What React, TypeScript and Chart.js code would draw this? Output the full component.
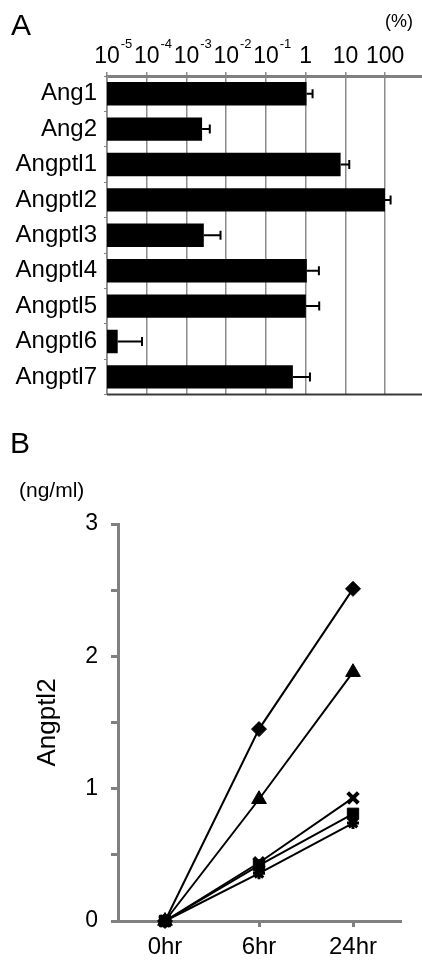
import React, { useEffect, useRef } from 'react';
import { Chart, registerables } from 'chart.js';
Chart.register(...registerables);

const FONT = '"Liberation Sans", Arial, Helvetica, sans-serif';

// Panel A data (relative expression, %)
const genes = ['Ang1', 'Ang2', 'Angptl1', 'Angptl2', 'Angptl3', 'Angptl4', 'Angptl5', 'Angptl6', 'Angptl7'];
const expression = [1.05, 0.00247, 7.57, 98.9, 0.00273, 1.07, 1.01, 0.0000186, 0.476];
const expressionUpper = [1.49, 0.00386, 12.5, 137, 0.00718, 2.15, 2.19, 0.000076, 1.28];
const logExponents = [-5, -4, -3, -2, -1, 0, 1, 2];

// Panel B data (Angptl2, ng/ml)
const timePoints = ['0hr', '6hr', '24hr'];
const seriesDiamond = [0, 1.45, 2.51];
const seriesTriangle = [0, 0.92, 1.88];
const seriesCross = [0, 0.44, 0.93];
const seriesSquare = [0, 0.42, 0.81];
const seriesStar = [0, 0.36, 0.74];

const panelAPlugin = {
  id: 'panelA',
  afterDatasetsDraw(chart: any) {
    const { ctx, scales, chartArea } = chart;
    const x = scales.x;
    ctx.save();
    const meta = chart.getDatasetMeta(0);
    ctx.strokeStyle = '#000';
    ctx.lineWidth = 2;
    expressionUpper.forEach((u, i) => {
      const bar = meta.data[i];
      const yc = bar.y;
      const x0 = x.getPixelForValue(expression[i]);
      const x1 = x.getPixelForValue(u);
      ctx.beginPath();
      ctx.moveTo(x0, yc);
      ctx.lineTo(x1, yc);
      ctx.moveTo(x1, yc - 4.5);
      ctx.lineTo(x1, yc + 4.5);
      ctx.stroke();
    });
    ctx.strokeStyle = '#3a3a3a';
    ctx.lineWidth = 2;
    ctx.beginPath();
    ctx.moveTo(chartArea.left, chartArea.bottom);
    ctx.lineTo(chartArea.right, chartArea.bottom);
    ctx.stroke();
    ctx.fillStyle = '#000';
    ctx.textBaseline = 'alphabetic';
    logExponents.forEach((e) => {
      const px = x.getPixelForValue(Math.pow(10, e));
      ctx.font = `23px ${FONT}`;
      ctx.textAlign = 'center';
      if (e >= 0) {
        ctx.fillText(String(Math.pow(10, e)), px, 63);
      } else {
        ctx.fillText('10', px, 63);
        const w = ctx.measureText('10').width;
        ctx.font = `13px ${FONT}`;
        ctx.textAlign = 'left';
        ctx.fillText(String(e), px + w / 2 + 1, 48);
      }
    });
    ctx.restore();
  },
};

export default function App() {
  const refA = useRef<HTMLCanvasElement>(null);
  const refB = useRef<HTMLCanvasElement>(null);

  useEffect(() => {
    const chartA = new Chart(refA.current as HTMLCanvasElement, {
      type: 'bar',
      data: {
        labels: genes,
        datasets: [
          {
            data: expression,
            backgroundColor: '#000',
            borderWidth: 0,
            barPercentage: 0.66,
            categoryPercentage: 1,
          },
        ],
      },
      options: {
        indexAxis: 'y',
        animation: false,
        responsive: false,
        devicePixelRatio: 1,
        layout: { padding: { top: 0, left: 0, right: 0, bottom: 3 } },
        plugins: { legend: { display: false }, tooltip: { enabled: false } },
        scales: {
          x: {
            type: 'logarithmic',
            position: 'top',
            min: 1e-5,
            max: 845,
            afterBuildTicks: (s: any) => {
              s.ticks = logExponents.map((e) => ({ value: Math.pow(10, e) }));
            },
            afterFit: (s: any) => {
              s.height = 76;
            },
            ticks: { display: false },
            grid: { color: '#8c8c8c', lineWidth: 1.5, tickLength: 4, drawTicks: true },
            border: { display: true, color: '#808080', width: 3 },
          },
          y: {
            afterFit: (s: any) => {
              s.width = 107;
            },
            ticks: { color: '#000', font: { family: FONT, size: 24 }, padding: 7 },
            grid: { display: true, drawOnChartArea: false, offset: true, tickLength: 3, color: '#808080' },
            border: { display: true, color: '#9a9a9a', width: 1 },
          },
        },
      } as any,
      plugins: [panelAPlugin],
    });

    const styles = [
      { data: seriesDiamond, pointStyle: 'rectRot', pointRadius: 7.5, pointBorderWidth: 1 },
      { data: seriesTriangle, pointStyle: 'triangle', pointRadius: 8.5, pointBorderWidth: 1 },
      { data: seriesCross, pointStyle: 'crossRot', pointRadius: 7.5, pointBorderWidth: 4 },
      { data: seriesSquare, pointStyle: 'rect', pointRadius: 8, pointBorderWidth: 1 },
      { data: seriesStar, pointStyle: 'star', pointRadius: 6, pointBorderWidth: 3 },
    ];

    const chartB = new Chart(refB.current as HTMLCanvasElement, {
      type: 'line',
      data: {
        labels: timePoints,
        datasets: styles.map((d) => ({
          borderColor: '#000',
          backgroundColor: '#000',
          borderWidth: 2,
          pointBackgroundColor: '#000',
          pointBorderColor: '#000',
          clip: false,
          ...d,
        })),
      } as any,
      options: {
        animation: false,
        responsive: false,
        devicePixelRatio: 1,
        layout: { padding: { top: 94, right: 22, left: 0, bottom: 0 } },
        plugins: { legend: { display: false }, tooltip: { enabled: false } },
        scales: {
          x: {
            offset: true,
            afterFit: (s: any) => {
              s.height = 43;
            },
            ticks: { color: '#000', font: { family: FONT, size: 24 }, padding: 6 },
            grid: { drawOnChartArea: false, tickLength: 6, color: '#808080', lineWidth: 3 },
            border: { display: true, color: '#808080', width: 3 },
          },
          y: {
            min: 0,
            max: 3,
            afterFit: (s: any) => {
              s.width = 118;
            },
            ticks: {
              stepSize: 0.5,
              callback: (v: any) => (Number.isInteger(v) ? String(v) : ''),
              color: '#000',
              font: { family: FONT, size: 23 },
              padding: 13,
            },
            grid: { drawOnChartArea: false, tickLength: 7, color: '#808080', lineWidth: 3 },
            border: { display: true, color: '#808080', width: 3 },
            title: {
              display: true,
              text: 'Angptl2',
              color: '#000',
              font: { family: FONT, size: 26 },
              padding: { top: 32, bottom: 0 },
            },
          },
        },
      } as any,
    });

    return () => {
      chartA.destroy();
      chartB.destroy();
    };
  }, []);

  const txt = (extra: React.CSSProperties): React.CSSProperties => ({
    position: 'absolute',
    fontFamily: FONT,
    color: '#000',
    whiteSpace: 'nowrap',
    ...extra,
  });

  return (
    <div style={{ position: 'absolute', left: 0, top: 0, width: 422, height: 964, background: '#fff', overflow: 'hidden' }}>
      <canvas
        ref={refA}
        width={422}
        height={416}
        style={{ position: 'absolute', left: 0, top: 0, width: 422, height: 416 }}
      />
      <canvas
        ref={refB}
        width={422}
        height={534}
        style={{ position: 'absolute', left: 0, top: 430, width: 422, height: 534 }}
      />
      <div style={txt({ left: 11, top: 10, fontSize: 30, lineHeight: '30px' })}>A</div>
      <div style={txt({ left: 385, top: 12, fontSize: 18, lineHeight: '18px' })}>(%)</div>
      <div style={txt({ left: 10, top: 428, fontSize: 30, lineHeight: '30px' })}>B</div>
      <div style={txt({ left: 19, top: 479, fontSize: 21, lineHeight: '21px' })}>(ng/ml)</div>
    </div>
  );
}
